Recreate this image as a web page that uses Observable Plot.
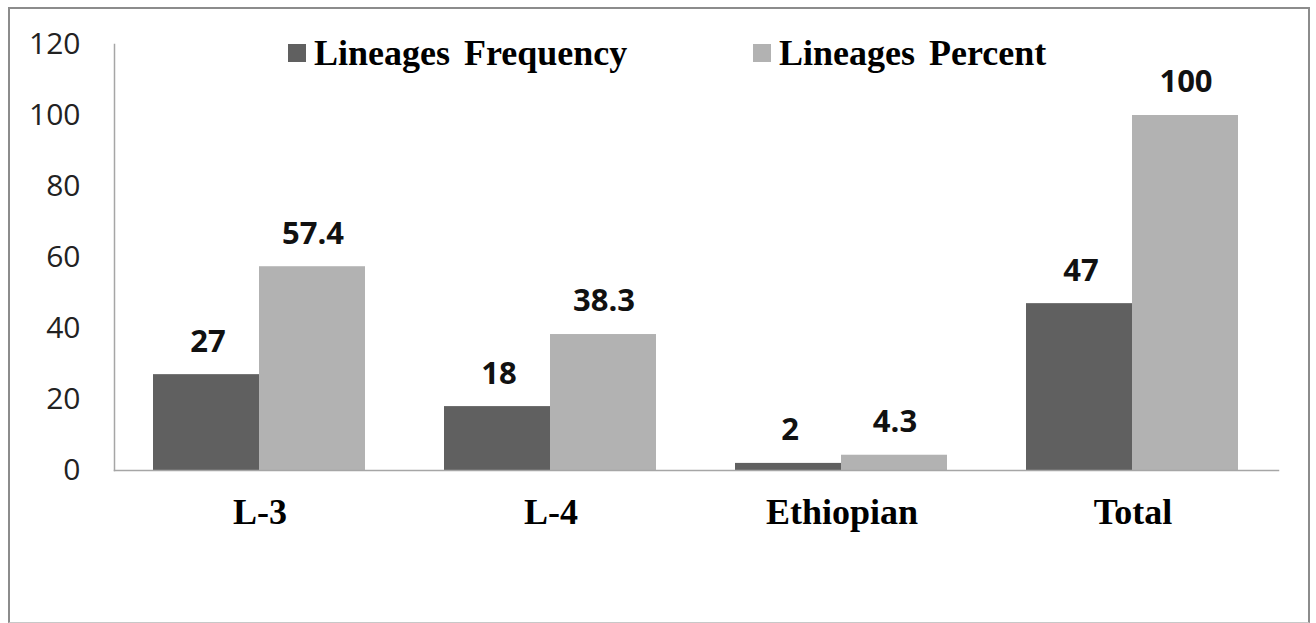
<!DOCTYPE html>
<html>
<head>
<meta charset="utf-8">
<script src="https://cdn.jsdelivr.net/npm/d3@7"></script>
<script src="https://cdn.jsdelivr.net/npm/@observablehq/plot@0.6"></script>
<style>
  html, body { margin: 0; padding: 0; background: #fff; }
  #wrap { position: relative; width: 1316px; height: 623px; overflow: hidden; }
  #border { position: absolute; left: 8px; top: 7px; width: 1298px; height: 613px; border: 2px solid #8c8c8c; border-bottom: 1px solid #c8c8c8; box-sizing: content-box; pointer-events: none; }
  #chart { position: absolute; left: 0; top: 0; }
  .legend { position: absolute; top: 35px; font-family: "Liberation Serif", "Times New Roman", serif; font-weight: bold; font-size: 36px; color: #000; word-spacing: 5px; white-space: nowrap; line-height: 36px; display: flex; align-items: center; }
  .sw { display: inline-block; width: 18px; height: 18px; margin-right: 8px; }
</style>
</head>
<body>
<div id="wrap">
  <div id="chart"></div>
  <div id="legend"></div>
  <div id="border"></div>
</div>
<script>
const categories = ["L-3", "L-4", "Ethiopian", "Total"];
const seriesNames = ["Lineages Frequency", "Lineages Percent"];
const frequency = [27, 18, 2, 47];
const percent = [57.4, 38.3, 4.3, 100];
const frequencyLabels = ["27", "18", "2", "47"];
const percentLabels = ["57.4", "38.3", "4.3", "100"];
const yTicks = [0, 20, 40, 60, 80, 100, 120];
const colors = ["#606060", "#b2b2b2"];

const freqData = categories.map((c, i) => ({category: c, value: frequency[i], label: frequencyLabels[i]}));
const pctData = categories.map((c, i) => ({category: c, value: percent[i], label: percentLabels[i]}));

const sans = "'Open Sans', 'Liberation Sans', sans-serif";
const serif = "'Liberation Serif', 'Times New Roman', serif";

const chart = Plot.plot({
  width: 1316,
  height: 623,
  marginLeft: 114,
  marginRight: 38,
  marginTop: 44,
  marginBottom: 153,
  style: {background: "transparent", overflow: "visible"},
  x: {domain: categories, padding: 0, label: null},
  y: {domain: [0, 120], label: null},
  marks: [
    Plot.barY(freqData, {x: "category", y: "value", fill: colors[0], insetLeft: 39, insetRight: 146}),
    Plot.barY(pctData, {x: "category", y: "value", fill: colors[1], insetLeft: 145, insetRight: 40}),
    Plot.text(freqData, {x: "category", y: "value", text: "label", dx: -52, dy: -33, lineAnchor: "middle",
      fontFamily: sans, fontWeight: "bold", fontSize: 31, fill: "#111"}),
    Plot.text(pctData, {x: "category", y: "value", text: "label", dx: 53, dy: -33, lineAnchor: "middle",
      fontFamily: sans, fontWeight: "bold", fontSize: 31, fill: "#111"}),
    Plot.frame({anchor: "left", stroke: "#a6a6a6", strokeWidth: 1.5}),
    Plot.frame({anchor: "bottom", stroke: "#a6a6a6", strokeWidth: 1.5}),
    Plot.axisY({ticks: yTicks, tickSize: 0, tickPadding: 34, fontSize: 30,
      fontFamily: sans, fill: "#222", label: null}),
    Plot.axisX({tickSize: 0, tickPadding: 28, fontSize: 36, fontWeight: "bold",
      fontFamily: serif, fill: "#000", label: null})
  ]
});
document.getElementById("chart").appendChild(chart);

const legendPos = [288, 753];
const legend = document.getElementById("legend");
seriesNames.forEach((name, i) => {
  const item = document.createElement("div");
  item.className = "legend";
  item.style.left = legendPos[i] + "px";
  const sw = document.createElement("span");
  sw.className = "sw";
  sw.style.background = colors[i];
  item.appendChild(sw);
  item.appendChild(document.createTextNode(name));
  legend.appendChild(item);
});
</script>
</body>
</html>
